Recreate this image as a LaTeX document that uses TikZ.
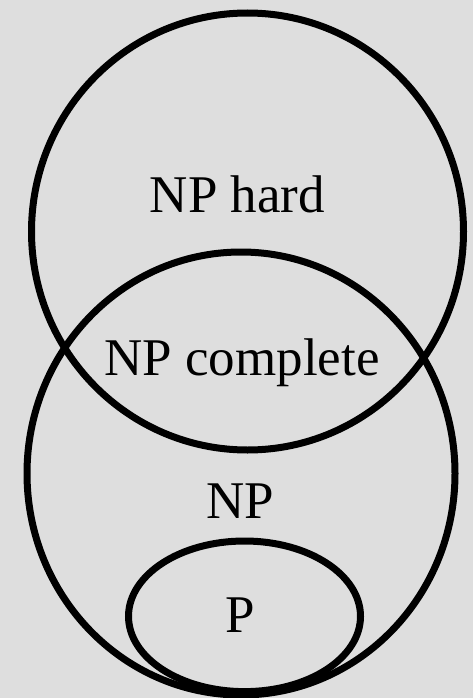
\documentclass[tikz,border=0pt]{standalone}
\usepackage{fontspec}
\setmainfont{Liberation Serif}
\definecolor{bg}{HTML}{DEDEDE}
\begin{document}
\begin{tikzpicture}[x=1pt,y=-1pt,
  setline/.style={line width=7pt, draw=black},
  lbl/.style={anchor=base, inner sep=0pt, font=\fontsize{53}{60}\selectfont}]
  % canvas
  \fill[bg] (0,0) rectangle (473,698);
  \useasboundingbox (0,0) rectangle (473,698);
  % the three classes
  \draw[setline] (247.5,231.5) ellipse [x radius=216, y radius=218.5];
  \draw[setline] (241,473.5) ellipse [x radius=214, y radius=221.5];
  \draw[setline] (244.5,616.3) ellipse [x radius=116, y radius=75.3];
  % labels
  \node[lbl] (nphard) at (237.5,212) {NP hard};
  \node[lbl] (npc) at (242,375) {NP complete};
  \node[lbl] (np) at (240,518) {NP};
  \node[lbl] (p) at (240.5,632) {P};
\end{tikzpicture}
\end{document}
